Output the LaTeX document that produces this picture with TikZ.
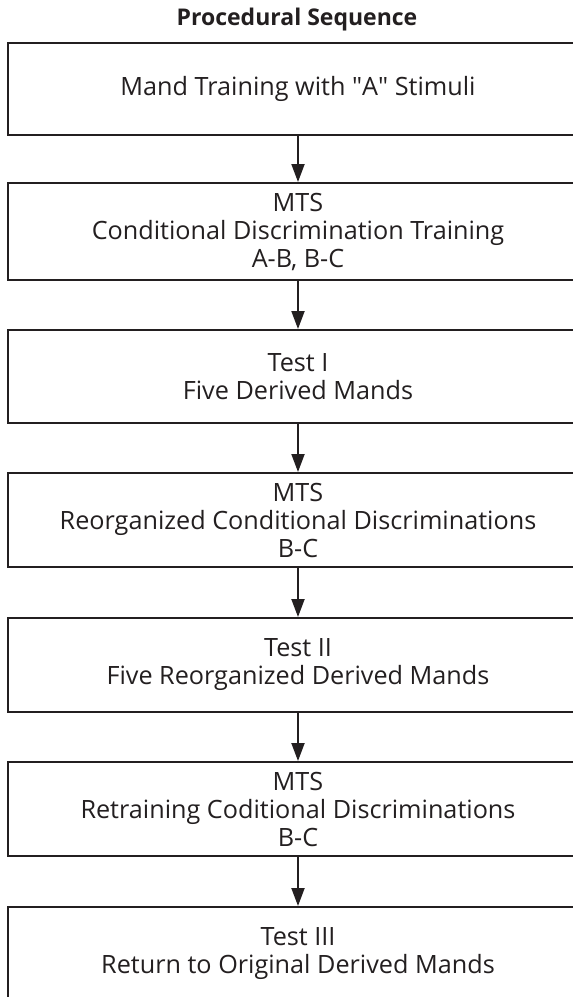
\documentclass[tikz,border=0pt]{standalone}
\usepackage{fontspec}
\setmainfont{Open Sans}
\usetikzlibrary{arrows.meta}
\definecolor{ink}{HTML}{231F20}
\begin{document}
\begin{tikzpicture}[x=1pt,y=1pt,
  stage/.style={draw=ink, line width=2pt, rectangle, inner sep=0pt,
    minimum width=580pt, align=center, text=ink,
    font=\fontsize{25.2}{28}\selectfont},
  flow/.style={draw=ink, line width=2pt,
    -{Triangle[length=18pt,width=13pt]}},
  heading/.style={font=\fontsize{23}{26}\selectfont\bfseries, text=ink,
    anchor=base, inner sep=0pt}
]
\useasboundingbox (0,0) rectangle (573,-997);

\node[heading] (title) at (297,-25) {Procedural Sequence};

\node[stage, minimum height=92pt] (s1) at (298,-89)
  {Mand Training with \textquotedbl A\textquotedbl\ Stimuli};
\node[stage, minimum height=97pt] (s2) at (298,-231.5)
  {MTS\\Conditional Discrimination Training\\A-B, B-C};
\node[stage, minimum height=93pt] (s3) at (298,-376.5)
  {Test I\\Five Derived Mands};
\node[stage, minimum height=94pt] (s4) at (298,-520)
  {MTS\\Reorganized Conditional Discriminations\\B-C};
\node[stage, minimum height=94pt] (s5) at (298,-665)
  {Test II\\Five Reorganized Derived Mands};
\node[stage, minimum height=94pt] (s6) at (298,-809)
  {MTS\\Retraining Coditional Discriminations\\B-C};
\node[stage, minimum height=93pt] (s7) at (298,-953.5)
  {Test III\\Return to Original Derived Mands};

\draw[flow] (s1) -- (s2);
\draw[flow] (s2) -- (s3);
\draw[flow] (s3) -- (s4);
\draw[flow] (s4) -- (s5);
\draw[flow] (s5) -- (s6);
\draw[flow] (s6) -- (s7);
\end{tikzpicture}
\end{document}
